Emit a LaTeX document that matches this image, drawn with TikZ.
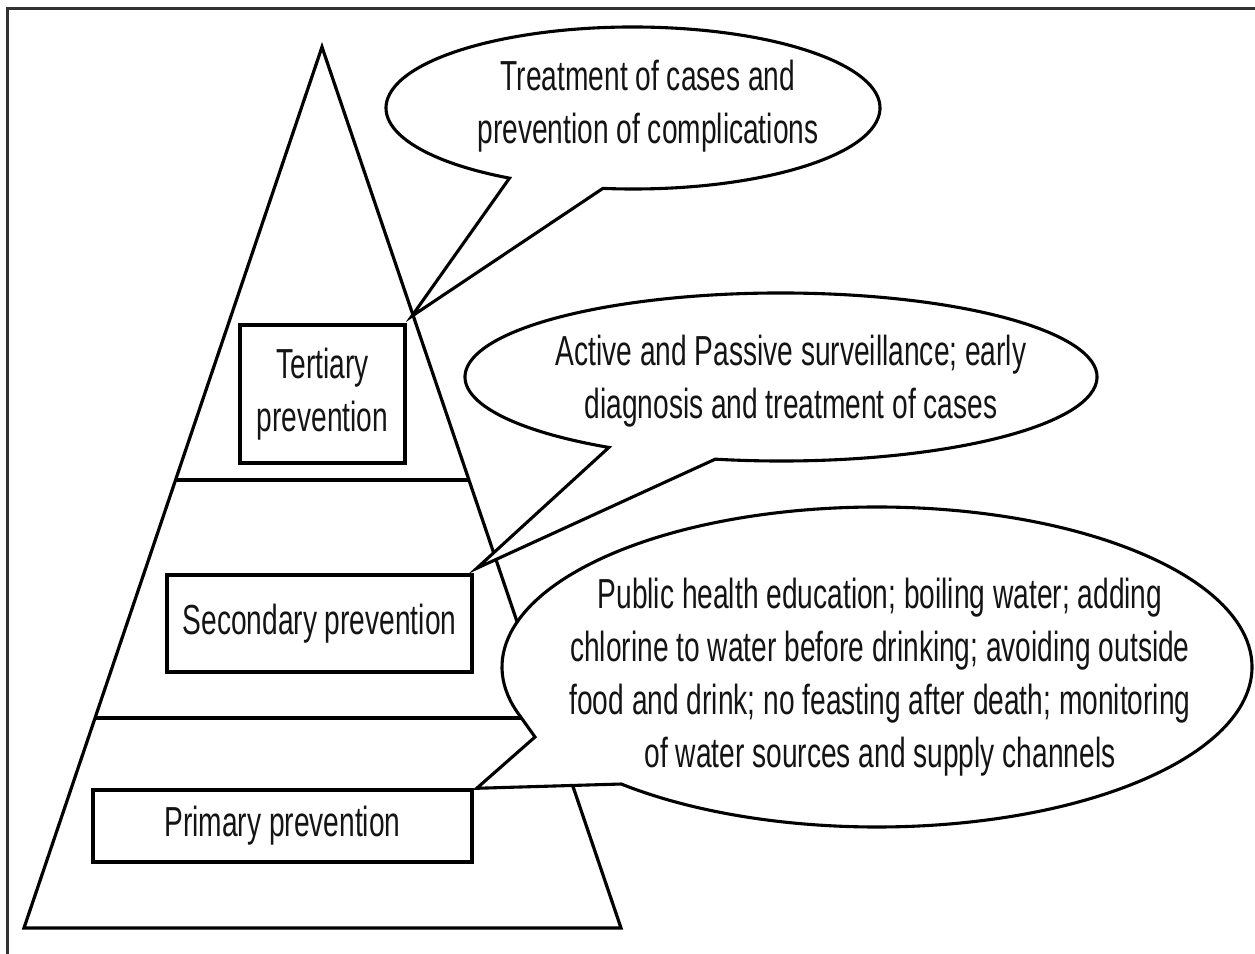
\documentclass[tikz,border=0pt]{standalone}
\usepackage{fontspec}
\setmainfont{Liberation Sans}[FakeStretch=0.67]
\usetikzlibrary{calc}
\begin{document}
\begin{tikzpicture}[x=1pt,y=1pt,
  line width=3.2pt, line join=miter,
  txt/.style={font=\fontsize{42}{53}\selectfont, text=black!92, align=center, inner sep=0pt},
  boxnode/.style={draw, fill=white, line width=3.4pt, inner sep=0pt, txt},
  bubble/.style={draw, fill=white, line width=3.1pt, line join=miter}]
\useasboundingbox (0,0) rectangle (1255,953);
\clip (0,0) rectangle (1255,953);
\fill[white] (0,0) rectangle (1255,953);
% frame
\draw[line width=3pt, black!80] (7,-5) -- (7,944) -- (1262,944);
% pyramid
\coordinate (apex) at (322,906);
\coordinate (bl) at (24,25);
\coordinate (br) at (621,25);
\draw[line width=3.2pt] (apex) -- (bl) -- (br) -- cycle;
\draw[line width=3.4pt] ($(apex)!0.4915!(bl)$) -- ($(apex)!0.4915!(br)$);
\draw[line width=3.4pt] ($(apex)!0.7616!(bl)$) -- ($(apex)!0.7616!(br)$);
% level boxes
\node[boxnode, minimum width=165pt, minimum height=138pt] (tbox) at (322.5,559) {Tertiary\\prevention};
\node[boxnode, minimum width=305pt, minimum height=97pt] (sbox) at (319.5,329.5) {Secondary prevention};
\node[boxnode, minimum width=379pt, minimum height=72pt] (pbox) at (282.5,127) {\raisebox{-2pt}{Primary prevention}};
% callout centres
\coordinate (c3) at (633,845);
\coordinate (c2) at (781,576);
\coordinate (c1) at (877,286);
% tertiary callout
\draw[bubble] ($(c3)+(263:247pt and 81pt)$) arc[start angle=263, end angle=600, x radius=247pt, y radius=81pt]
  -- ($(tbox.north east)+(5,7)$) -- cycle;
% secondary callout
\draw[bubble] ($(c2)+(258:316pt and 84pt)$) arc[start angle=258, end angle=597, x radius=316pt, y radius=84pt]
  -- ($(sbox.north east)+(3,5)$) -- cycle;
% primary callout
\coordinate (pk) at (535,216);
\draw[bubble] ($(c1)+(227:375pt and 160pt)$) arc[start angle=227, end angle=558, x radius=375pt, y radius=160pt]
  -- (pk) -- ($(pbox.north east)+(3,0)$) -- cycle;
% callout texts
\node[txt] (t3) at (648,847) {Treatment of cases and\\prevention of complications};
\node[txt] (t2) at (791,572) {Active and Passive surveillance; early\\diagnosis and treatment of cases};
\node[txt] (t1) at (880,276) {Public health education; boiling water; adding\\chlorine to water before drinking; avoiding outside\\food and drink; no feasting after death; monitoring\\of water sources and supply channels};
\end{tikzpicture}
\end{document}
